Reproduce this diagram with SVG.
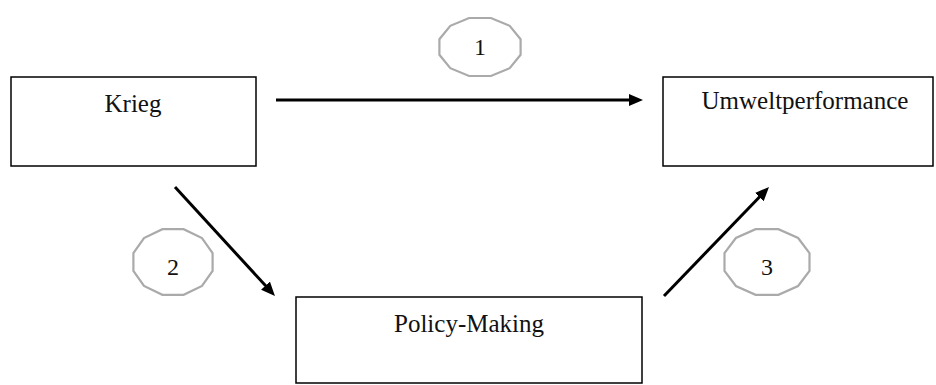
<svg xmlns="http://www.w3.org/2000/svg" width="936" height="385" viewBox="0 0 936 385">
<style>
.box{fill:#fff;stroke:#000;stroke-width:1.5}
.lbl{font-family:'Liberation Serif','DejaVu Serif',serif;font-size:25px;fill:#111;text-anchor:middle}
.num{font-family:'Liberation Serif','DejaVu Serif',serif;font-size:24px;fill:#111;text-anchor:middle}
.oct{fill:#fff;stroke:#aaa;stroke-width:2.2}
.arr{stroke:#000;stroke-width:3;fill:none;marker-end:url(#ah)}
</style>
<defs>
<marker id="ah" markerUnits="userSpaceOnUse" markerWidth="14" markerHeight="12" refX="4" refY="6" orient="auto">
<path d="M0,0 L14,6 L0,12 z" fill="#000"/>
</marker>
</defs>
<rect width="936" height="385" fill="#fff"/>
<g id="krieg">
<rect class="box" x="11" y="77" width="245" height="89"/>
<text class="lbl" x="133" y="112">Krieg</text>
</g>
<g id="umwelt">
<rect class="box" x="663" y="77" width="270" height="89"/>
<text class="lbl" x="805" y="109">Umweltperformance</text>
</g>
<g id="policy">
<rect class="box" x="296" y="297" width="346" height="86"/>
<text class="lbl" x="469" y="332">Policy-Making</text>
</g>
<g id="label1">
<polygon class="oct" points="520.6,39.2 509.7,25.8 490.9,18 469.1,18 450.3,25.8 439.4,39.2 439.4,54.8 450.3,68.2 469.1,76 490.9,76 509.7,68.2 520.6,54.8"/>
<text class="num" x="480" y="55">1</text>
</g>
<g id="label2">
<polygon class="oct" points="212.6,253.2 202,238 183.6,229.2 162.4,229.2 144,238 133.4,253.2 133.4,270.8 144,286 162.4,294.8 183.6,294.8 202,286 212.6,270.8"/>
<text class="num" x="173" y="275">2</text>
</g>
<g id="label3">
<polygon class="oct" points="809.5,253.2 798.1,238 778.4,229.2 755.6,229.2 735.9,238 724.5,253.2 724.5,270.8 735.9,286 755.6,294.8 778.4,294.8 798.1,286 809.5,270.8"/>
<text class="num" x="767" y="275">3</text>
</g>
<g id="connectors">
<line class="arr" x1="276" y1="100" x2="633" y2="100"/>
<line class="arr" x1="175" y1="187" x2="268.2" y2="288.6"/>
<line class="arr" x1="664" y1="296" x2="762.1" y2="194.2"/>
</g>
</svg>
